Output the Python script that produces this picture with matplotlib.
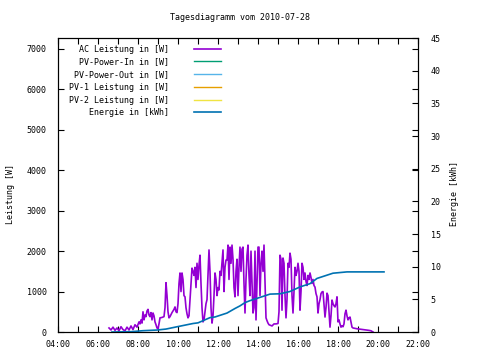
import matplotlib
matplotlib.use("Agg")
import matplotlib.pyplot as plt
from matplotlib.ticker import FuncFormatter, MultipleLocator

# ---- data (minutes since midnight) ----
ac_time = [393, 399, 405, 411, 417, 423, 429, 435, 441, 447, 453, 459, 465, 471, 477, 483, 486, 489, 492, 495,
           498, 501, 504, 507, 510, 513, 516, 519, 522, 525, 528, 531, 534, 537, 540, 543, 546, 552, 558, 561,
           564, 567, 570, 573, 576, 582, 588, 591, 594, 597, 600, 603, 606, 609, 612, 615, 618, 621, 624, 627,
           630, 633, 636, 639, 642, 645, 648, 651, 654, 657, 660, 663, 666, 669, 672, 675, 678, 681, 684, 687,
           690, 693, 696, 699, 702, 705, 708, 711, 714, 717, 720, 723, 726, 729, 732, 735, 738, 741, 744, 747,
           750, 753, 756, 759, 762, 765, 768, 771, 774, 777, 780, 783, 786, 789, 792, 795, 798, 801, 804, 807,
           810, 813, 816, 819, 822, 825, 828, 831, 834, 837, 840, 843, 846, 849, 852, 855, 858, 861, 864, 867,
           870, 873, 876, 882, 888, 894, 900, 903, 906, 909, 912, 915, 918, 921, 924, 927, 930, 933, 936, 939,
           942, 945, 948, 951, 954, 957, 960, 963, 966, 969, 972, 975, 978, 981, 984, 987, 990, 993, 996, 999,
           1002, 1005, 1008, 1011, 1014, 1017, 1020, 1023, 1026, 1029, 1032, 1035, 1038, 1041, 1044, 1047, 1050,
           1053, 1056, 1059, 1062, 1065, 1068, 1071, 1074, 1077, 1080, 1083, 1086, 1089, 1092, 1095, 1098, 1101,
           1104, 1107, 1110, 1113, 1116, 1119, 1122, 1125, 1131, 1137, 1146, 1155, 1164, 1173, 1179, 1185]
ac_power = [100, 50, 120, 40, 100, 30, 130, 60, 30, 120, 50, 150, 60, 180, 120, 250, 200, 300, 220, 500,
            300, 420, 380, 520, 560, 420, 380, 480, 300, 470, 400, 250, 180, 100, 80, 200, 350, 360, 380, 600,
            1220, 900, 500, 350, 380, 480, 560, 620, 500, 480, 700, 1200, 1460, 1000, 1460, 1300, 900, 870, 600, 450,
            350, 400, 800, 1200, 1580, 1500, 1400, 1600, 1100, 1700, 1300, 1650, 1900, 1200, 600, 250, 300, 500, 700, 800,
            1400, 2030, 1500, 600, 220, 400, 900, 1460, 1300, 900, 1100, 1040, 1500, 1400, 1700, 2030, 1000, 1600, 1780, 1780,
            2150, 1300, 2100, 1700, 2150, 1800, 1100, 870, 1500, 1800, 900, 1600, 2100, 1500, 2050, 2100, 1200, 470, 1300, 1900,
            2150, 1400, 900, 2000, 1200, 470, 600, 2000, 300, 1200, 2100, 2100, 900, 1700, 2000, 1500, 2150, 1200, 350, 280,
            220, 180, 170, 150, 200, 200, 210, 500, 1900, 1800, 540, 1830, 1700, 900, 350, 800, 1700, 1600, 1950, 1800,
            900, 470, 1000, 1600, 1400, 1500, 1700, 1500, 540, 1000, 1700, 1600, 1300, 1460, 1250, 1150, 1400, 1300, 1460, 1350,
            1200, 1300, 1150, 1110, 950, 870, 470, 700, 800, 950, 990, 1000, 700, 370, 600, 960, 900,
            500, 120, 400, 790, 700, 650, 620, 700, 870, 250, 300, 200, 120, 150, 130, 200, 450,
            540, 400, 300, 350, 370, 250, 120, 100, 90, 80, 70, 60, 50, 40, 30, 0]

pv_in_time, pv_in_power = [], []
pv_out_time, pv_out_power = [], []
pv1_time, pv1_power = [], []
pv2_time, pv2_power = [], []

en_time = [402, 460, 495, 537, 564, 597, 645, 660, 696, 711, 747, 771, 786, 801, 816, 846, 876, 906, 936,
           966, 996, 1017, 1041, 1065, 1107, 1218]
en_kwh = [0, 0.05, 0.2, 0.3, 0.45, 0.8, 1.3, 1.4, 2.2, 2.3, 2.9, 3.6, 4.0, 4.5, 4.8, 5.3, 5.8, 5.85, 6.2,
          6.9, 7.4, 8.2, 8.6, 9.0, 9.2, 9.2]

labels = ["AC Leistung in [W]", "PV-Power-In in [W]", "PV-Power-Out in [W]",
          "PV-1 Leistung in [W]", "PV-2 Leistung in [W]", "Energie in [kWh]"]
colors = ["#9400d3", "#009e73", "#56b4e9", "#e69f00", "#f0e442", "#0072b2"]

title = "Tagesdiagramm vom 2010-07-28"

plt.rcParams['font.family'] = ['DejaVu Sans Mono']
FS = 6.0

fig = plt.figure(figsize=(4.8, 3.6), dpi=100)
ax = fig.add_axes([58/480, 1-332/360, 360/480, 294/360])
ax2 = ax.twinx()

h = []
h += ax.plot(ac_time, ac_power, color=colors[0], lw=1.2, label=labels[0])
h += ax.plot(pv_in_time, pv_in_power, color=colors[1], lw=1.0, label=labels[1])
h += ax.plot(pv_out_time, pv_out_power, color=colors[2], lw=1.0, label=labels[2])
h += ax.plot(pv1_time, pv1_power, color=colors[3], lw=1.0, label=labels[3])
h += ax.plot(pv2_time, pv2_power, color=colors[4], lw=1.0, label=labels[4])
h += ax2.plot(en_time, en_kwh, color=colors[5], lw=1.2, label=labels[5])

ax.set_xlim(240, 1320)
ax.set_ylim(0, 7272)
ax2.set_ylim(0, 45)

ax.xaxis.set_major_locator(MultipleLocator(120))
ax.xaxis.set_minor_locator(MultipleLocator(60))
ax.xaxis.set_major_formatter(FuncFormatter(lambda v, p: "%02d:%02d" % (int(v) // 60, int(v) % 60)))
ax.yaxis.set_major_locator(MultipleLocator(1000))
ax2.yaxis.set_major_locator(MultipleLocator(5))

ax.tick_params(axis='x', which='both', direction='in', length=4, width=0.8, top=True, labelsize=FS, pad=6)
ax.tick_params(axis='y', which='both', direction='in', length=4, width=0.8, right=True, labelsize=FS, pad=8)
ax2.tick_params(axis='y', direction='in', length=4, width=0.8, labelsize=FS, pad=9)

for a in (ax, ax2):
    for s in a.spines.values():
        s.set_linewidth(0.8)

ax.set_ylabel("Leistung [W]", fontsize=FS)
ax.yaxis.set_label_coords(-0.12, 0.47)
ax2.set_ylabel("Energie [kWh]", fontsize=FS)
ax2.yaxis.set_label_coords(1.088, 0.47)

fig.text(0.5, 1-18/360, title, ha='center', va='center', fontsize=FS)

leg = ax.legend(handles=h, loc='upper left', bbox_to_anchor=(0.012, 1.0), markerfirst=False, frameon=False,
                fontsize=FS, handlelength=3.3, handletextpad=3.0, labelspacing=0.45, borderaxespad=0.4)

fig.savefig("out.png", dpi=100)
